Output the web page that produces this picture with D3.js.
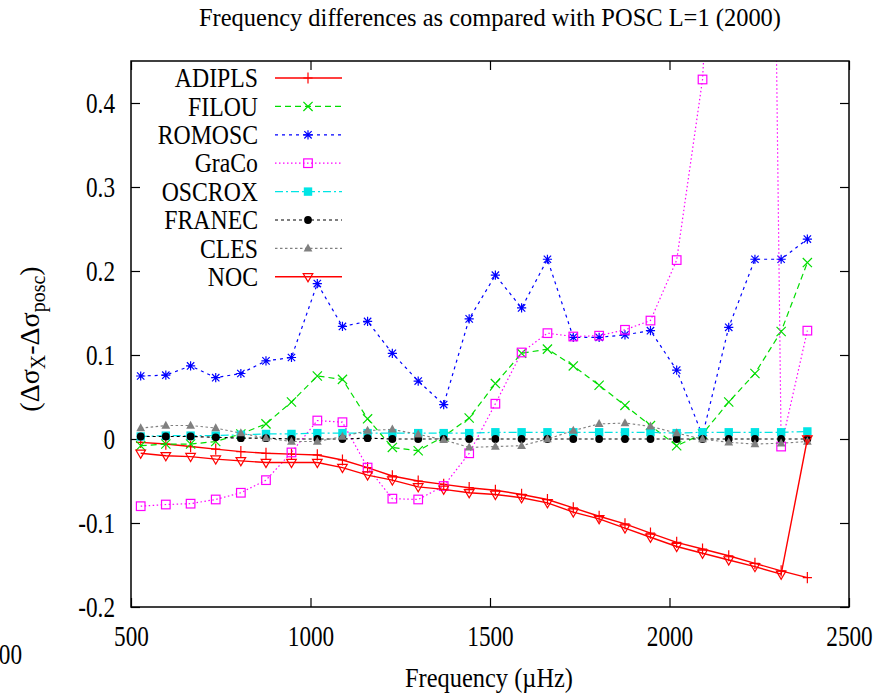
<!DOCTYPE html>
<html>
<head>
<meta charset="utf-8">
<script src="https://cdn.jsdelivr.net/npm/d3@7/dist/d3.min.js"></script>
<style>
  body { margin: 0; background: #fff; }
  svg { display: block; font-family: "Liberation Serif", "Times New Roman", Times, serif; }
</style>
</head>
<body>
<div id="chart"></div>
<script>
        // l=1 mode frequencies (µHz)
        const freq = [527, 597, 666, 736, 806, 876, 947, 1019, 1089, 1159, 1228, 1300, 1371, 1442,
            1515, 1588, 1660, 1732, 1804, 1876, 1947, 2020, 2092, 2165, 2238, 2311, 2384];

        const adipls = [-0.004, -0.006, -0.009, -0.012, -0.015, -0.017, -0.018, -0.019, -0.025, -0.034,
            -0.044, -0.050, -0.054, -0.058, -0.061, -0.066, -0.072, -0.082, -0.092, -0.101,
            -0.112, -0.123, -0.131, -0.139, -0.148, -0.157, -0.165];
        const filou = [-0.008, -0.006, -0.006, -0.003, 0.006, 0.018, 0.044, 0.075, 0.071, 0.024,
            -0.010, -0.014, 0.003, 0.025, 0.066, 0.102, 0.107, 0.087, 0.064, 0.040,
            0.016, -0.008, 0.006, 0.044, 0.078, 0.128, 0.210];
        const romosc = [0.075, 0.076, 0.087, 0.073, 0.078, 0.093, 0.097, 0.185, 0.134, 0.140,
            0.102, 0.069, 0.041, 0.143, 0.195, 0.156, 0.214, 0.121, 0.121, 0.124,
            0.129, 0.082, 0.004, 0.133, 0.214, 0.214, 0.238];
        const graco = [-0.080, -0.078, -0.077, -0.072, -0.064, -0.049, -0.016, 0.022, 0.020, -0.034,
            -0.071, -0.072, -0.056, -0.017, 0.042, 0.103, 0.126, 0.122, 0.123, 0.130,
            0.141, 0.213, 0.428, 1.0, 2.6, -0.009, 0.129];
        const oscrox = [0.003, 0.004, 0.004, 0.004, 0.005, 0.006, 0.006, 0.007, 0.007, 0.007,
            0.007, 0.007, 0.007, 0.007, 0.008, 0.008, 0.008, 0.008, 0.008, 0.008,
            0.008, 0.007, 0.008, 0.008, 0.008, 0.008, 0.009];
        const franec = [0.003, 0.003, 0.003, 0.002, 0.001, 0.001, 0, 0, 0, 0.001,
            0, 0, 0, 0, 0, 0, 0, 0, 0, 0,
            0, 0, 0, 0, 0, 0, 0];
        const cles = [0.013, 0.016, 0.016, 0.013, 0.007, 0.001, -0.003, -0.003, 0.003, 0.010,
            0.0115, 0.0055, -0.001, -0.010, -0.009, -0.008, 0.0, 0.010, 0.018, 0.019,
            0.015, 0.007, 0.0, -0.004, -0.006, -0.005, -0.003];
        const noc = [-0.017, -0.020, -0.021, -0.024, -0.026, -0.028, -0.028, -0.028, -0.034, -0.043,
            -0.049, -0.057, -0.060, -0.064, -0.066, -0.070, -0.076, -0.087, -0.095, -0.106,
            -0.117, -0.128, -0.136, -0.144, -0.152, -0.161, 0.0];

        const xTicks = [500, 1000, 1500, 2000, 2500];
        const yTicks = [-0.2, -0.1, 0, 0.1, 0.2, 0.3, 0.4];

        const series = [
            { name: "ADIPLS", values: adipls, color: "#ff0000", dash: null, marker: "plus", width: 1.4 },
            { name: "FILOU", values: filou, color: "#00dd00", dash: "6,4", marker: "cross", width: 1.2 },
            { name: "ROMOSC", values: romosc, color: "#0000ff", dash: "3,4", marker: "star", width: 1.2 },
            { name: "GraCo", values: graco, color: "#ff00ff", dash: "1.5,2.5", marker: "box", width: 1.2 },
            { name: "OSCROX", values: oscrox, color: "#00e5e5", dash: "8,3,2,3", marker: "fbox", width: 1.2 },
            { name: "FRANEC", values: franec, color: "#000000", dash: "3,3", marker: "fcircle", width: 1.2 },
            { name: "CLES", values: cles, color: "#808080", dash: "2.5,2.5", marker: "ftri", width: 1.1 },
            { name: "NOC", values: noc, color: "#ff0000", dash: null, marker: "dtri", width: 1.4 }
        ];

        const width = 892, height = 696;
        const margin = { top: 61, right: 43, bottom: 89, left: 131 };
        const iw = width - margin.left - margin.right;
        const ih = height - margin.top - margin.bottom;

        const svg = d3.select("#chart").append("svg")
            .attr("width", width)
            .attr("height", height);

        const x = d3.scaleLinear().domain([500, 2500]).range([0, iw]);
        const y = d3.scaleLinear().domain([-0.2, 0.45]).range([ih, 0]);

        const g = svg.append("g").attr("transform", `translate(${margin.left},${margin.top})`);

        svg.append("defs").append("clipPath").attr("id", "clip")
            .append("rect").attr("width", iw).attr("height", ih);

        // axes with inward ticks, mirrored on top/right
        const fmtY = d => String(Math.round(d * 10) / 10);
        const xAxis = g.append("g").attr("transform", `translate(0,${ih})`)
            .call(d3.axisBottom(x).tickValues(xTicks).tickSize(-9).tickSizeOuter(0).tickPadding(0)
                .tickFormat(d3.format("d")));
        xAxis.selectAll("text")
            .attr("y", 39).attr("dy", 0)
            .attr("transform", "scale(0.8,1)");
        g.append("g").call(d3.axisTop(x).tickValues(xTicks).tickSize(-9).tickSizeOuter(0).tickFormat(""));

        const yAxis = g.append("g")
            .call(d3.axisLeft(y).tickValues(yTicks).tickSize(-9).tickSizeOuter(0).tickFormat(fmtY));
        yAxis.selectAll("text")
            .attr("x", -16 / 0.8).attr("dy", "0.34em")
            .attr("transform", "scale(0.8,1)");
        g.append("g").attr("transform", `translate(${iw},0)`)
            .call(d3.axisRight(y).tickValues(yTicks).tickSize(-9).tickSizeOuter(0).tickFormat(""));

        // drop d3's default sans-serif on the axis groups
        g.selectAll("g").attr("font-family", null).attr("font-size", null);
        g.selectAll(".domain").remove();
        g.selectAll(".tick line").attr("stroke", "#000").attr("stroke-width", 1.2);
        g.selectAll(".tick text").attr("font-size", 29).attr("fill", "#000");

        // marker shapes
        function marker(sel, type, color) {
            const s = 4.6;
            if (type === "plus") {
                sel.append("path").attr("d", `M${-s},0H${s}M0,${-s - 1}V${s + 1}`)
                    .attr("stroke", color).attr("stroke-width", 1.2).attr("fill", "none");
            } else if (type === "cross") {
                sel.append("path").attr("d", `M${-s},${-s}L${s},${s}M${-s},${s}L${s},${-s}`)
                    .attr("stroke", color).attr("stroke-width", 1.2).attr("fill", "none");
            } else if (type === "star") {
                sel.append("path").attr("d", `M${-s},0H${s}M0,${-s}V${s}M${-s * 0.8},${-s * 0.8}L${s * 0.8},${s * 0.8}M${-s * 0.8},${s * 0.8}L${s * 0.8},${-s * 0.8}`)
                    .attr("stroke", color).attr("stroke-width", 1.2).attr("fill", "none");
            } else if (type === "box") {
                sel.append("rect").attr("x", -4.3).attr("y", -4.3).attr("width", 8.6).attr("height", 8.6)
                    .attr("stroke", color).attr("stroke-width", 1.2).attr("fill", "none");
            } else if (type === "fbox") {
                sel.append("rect").attr("x", -4.2).attr("y", -4.2).attr("width", 8.4).attr("height", 8.4)
                    .attr("fill", color);
            } else if (type === "fcircle") {
                sel.append("circle").attr("r", 3.9).attr("fill", color);
            } else if (type === "ftri") {
                sel.append("path").attr("d", "M0,-4.8L4.4,3.2L-4.4,3.2Z").attr("fill", color);
            } else if (type === "dtri") {
                sel.append("path").attr("d", "M-4.8,-3.2L4.8,-3.2L0,5Z")
                    .attr("stroke", color).attr("stroke-width", 1.2).attr("fill", "none");
            }
        }

        const line = d3.line().x(d => x(d[0])).y(d => y(d[1]));
        const plot = g.append("g").attr("clip-path", "url(#clip)");

        series.forEach(s => {
            const pts = freq.map((f, i) => [f, s.values[i]]);
            plot.append("path")
                .datum(pts)
                .attr("d", line)
                .attr("fill", "none")
                .attr("stroke", s.color)
                .attr("stroke-width", s.width)
                .attr("stroke-dasharray", s.dash);
            pts.forEach(p => {
                const m = plot.append("g").attr("transform", `translate(${x(p[0])},${y(p[1])})`);
                marker(m, s.marker, s.color);
            });
        });

        // frame
        g.append("rect").attr("width", iw).attr("height", ih)
            .attr("fill", "none").attr("stroke", "#000").attr("stroke-width", 1.5);

        // legend
        const legend = svg.append("g").attr("transform", "translate(258,78)");
        series.forEach((s, i) => {
            const row = legend.append("g").attr("transform", `translate(0,${i * 28.4})`);
            row.append("text")
                .attr("text-anchor", "end")
                .attr("dy", "0.34em")
                .attr("font-size", 27)
                .attr("transform", "scale(0.88,1)")
                .text(s.name);
            row.append("line")
                .attr("x1", 17).attr("x2", 84)
                .attr("stroke", s.color)
                .attr("stroke-width", s.width)
                .attr("stroke-dasharray", s.dash);
            marker(row.append("g").attr("transform", "translate(50,0)"), s.marker, s.color);
        });

        // titles
        svg.append("text")
            .attr("x", 199).attr("y", 26)
            .attr("font-size", 25)
            .attr("textLength", 582).attr("lengthAdjust", "spacingAndGlyphs")
            .text("Frequency differences as compared with POSC L=1 (2000)");

        svg.append("text")
            .attr("x", 405).attr("y", 687)
            .attr("font-size", 27)
            .attr("textLength", 168).attr("lengthAdjust", "spacingAndGlyphs")
            .text("Frequency (\u00b5Hz)");

        const yl = svg.append("text")
            .attr("transform", "translate(39,339) rotate(-90)")
            .attr("text-anchor", "middle")
            .attr("font-size", 28);
        yl.append("tspan").text("(\u0394\u03c3");
        yl.append("tspan").attr("font-size", 20).attr("dy", 6).text("X");
        yl.append("tspan").attr("dy", -6).text("-\u0394\u03c3");
        yl.append("tspan").attr("font-size", 20).attr("dy", 6).text("posc");
        yl.append("tspan").attr("dy", -6).text(")");

        // stray label fragment at the lower left
        svg.append("text")
            .attr("x", 22).attr("y", 664)
            .attr("text-anchor", "end")
            .attr("font-size", 29)
            .attr("transform", "translate(22,0) scale(0.8,1) translate(-22,0)")
            .text("00");
</script>
</body>
</html>
